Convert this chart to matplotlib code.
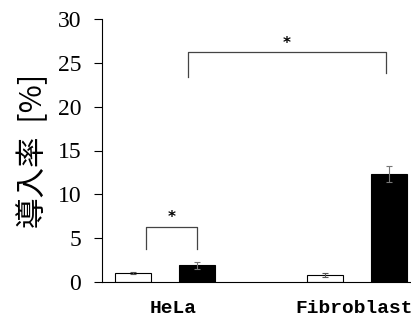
import numpy as np
import matplotlib
matplotlib.use("Agg")
import matplotlib.pyplot as plt

# data
groups = ["HeLa", "Fibroblast"]
control = [1.0, 0.8]
control_err = [0.1, 0.2]
treated = [1.9, 12.3]
treated_err = [0.4, 0.9]
yticks = [0, 5, 10, 15, 20, 25, 30]

fig = plt.figure(figsize=(4.11, 3.2), dpi=100)
ax = fig.add_axes([102 / 411, 1 - 282 / 320, 319 / 411, 263 / 320])

pos_c = np.array([0, 3])
pos_t = pos_c + 1
w = 0.56
ax.bar(pos_c, control, w, color="white", edgecolor="black", lw=0.8,
       yerr=control_err, error_kw=dict(ecolor="#555555", elinewidth=0.8, capsize=2.5, capthick=0.8))
ax.bar(pos_t, treated, w, color="black", edgecolor="black", lw=0.8,
       yerr=treated_err, error_kw=dict(ecolor="#777777", elinewidth=0.8, capsize=2.5, capthick=0.8))


def bracket(x0, x1, y, h0, h1):
    ax.plot([x0, x0, x1, x1], [y - h0, y, y, y - h1], color="#444444", lw=0.9, clip_on=False)
    ax.text((x0 + x1) / 2, y + 0.2, "*", ha="center", va="bottom", fontsize=11,
            fontweight="bold", family="DejaVu Sans")


bracket(pos_c[0] + 0.2, pos_t[0], 6.3, 2.5, 2.5)
bracket(pos_t[0] - 0.15, pos_c[1] + 0.95, 26.2, 2.8, 2.4)

ax.set_xlim(-0.49, 4.5)
ax.set_ylim(0, 30)
ax.set_yticks(yticks)
ax.set_yticklabels([str(t) for t in yticks], family="Liberation Serif", fontsize=17)
ax.set_xticks((pos_c + pos_t) / 2 + np.array([0.13, -0.04]))
ax.set_xticklabels(groups, family="Liberation Mono", fontweight="bold", fontsize=14)
ax.tick_params(axis="x", length=0, pad=13)
ax.tick_params(axis="y", direction="out", length=6, width=0.8, pad=9)
for s in ["top", "right"]:
    ax.spines[s].set_visible(False)
for s in ["left", "bottom"]:
    ax.spines[s].set_linewidth(0.8)

ax.set_ylabel("導入率  [%]", family=["Noto Sans CJK JP", "DejaVu Sans"], fontsize=22, labelpad=6)

fig.savefig("out.png", dpi=100)
